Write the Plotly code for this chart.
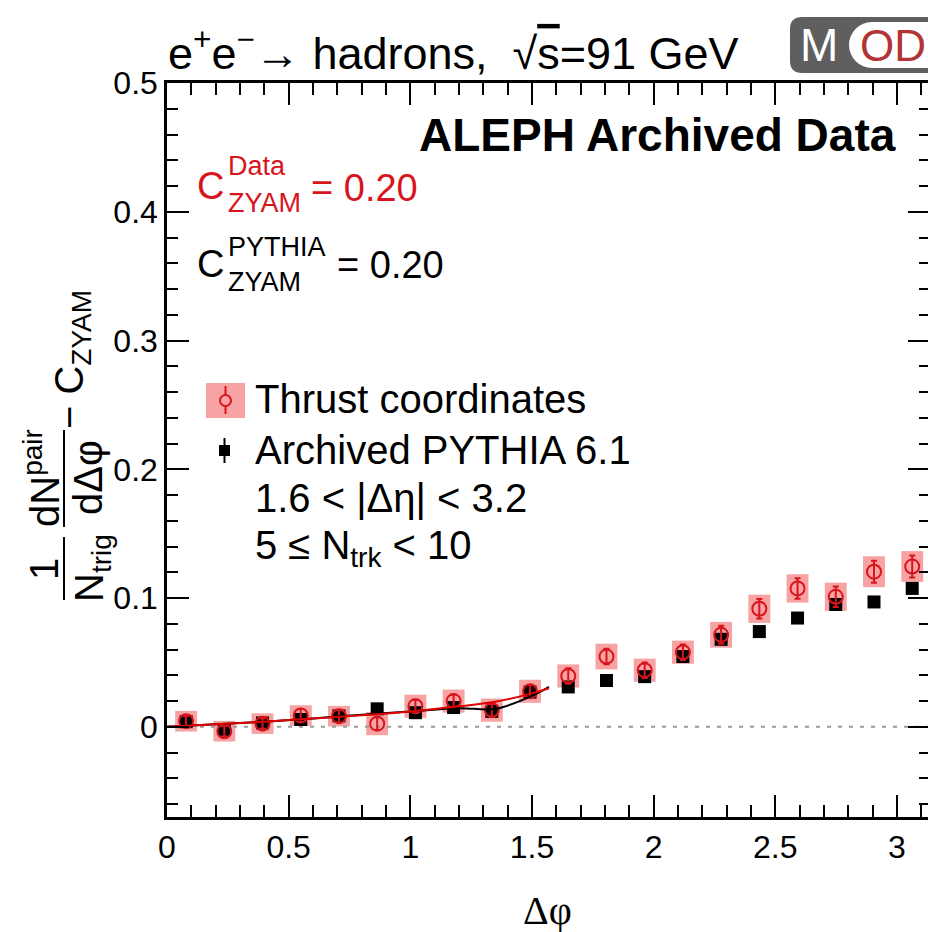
import plotly.graph_objects as go

# ---------------- data ----------------
dphi = [0.0785, 0.2356, 0.3927, 0.5498, 0.7069, 0.8639, 1.0210, 1.1781, 1.3352, 1.4923,
        1.6493, 1.8064, 1.9635, 2.1206, 2.2777, 2.4347, 2.5918, 2.7489, 2.9060, 3.0631]
thrust = [0.0044, -0.0034, 0.0025, 0.0088, 0.0083, 0.0025, 0.0160, 0.0200, 0.0130, 0.0276,
          0.0395, 0.0546, 0.0440, 0.0580, 0.0715, 0.0917, 0.1075, 0.1010, 0.1205, 0.1245]
thrust_stat = [0.004, 0.004, 0.004, 0.005, 0.005, 0.005, 0.005, 0.005, 0.005, 0.005,
               0.006, 0.006, 0.006, 0.006, 0.007, 0.0075, 0.008, 0.008, 0.0085, 0.0085]
thrust_sys = [0.008, 0.008, 0.008, 0.008, 0.008, 0.009, 0.009, 0.009, 0.009, 0.009,
              0.009, 0.010, 0.009, 0.009, 0.010, 0.011, 0.011, 0.011, 0.012, 0.012]
pythia = [0.0040, -0.0020, 0.0030, 0.0057, 0.0085, 0.0140, 0.0110, 0.0150, 0.0120, 0.0270,
          0.0310, 0.0360, 0.0390, 0.0546, 0.0680, 0.0740, 0.0845, 0.0950, 0.0970, 0.1075]
pythia_err = [0.002] * 20

fit_x = [0.0, 0.2, 0.4, 0.6, 0.8, 1.0, 1.2, 1.35, 1.5, 1.57]
fit_thrust = [0.000, 0.002, 0.004, 0.0065, 0.009, 0.012, 0.016, 0.0195, 0.026, 0.030]
fit_pythia = [0.000, 0.002, 0.004, 0.0065, 0.0095, 0.012, 0.0145, 0.0140, 0.024, 0.031]

x_ticks = [0, 0.5, 1, 1.5, 2, 2.5, 3]
x_ticktext = ["0", "0.5", "1", "1.5", "2", "2.5", "3"]
y_ticks = [0, 0.1, 0.2, 0.3, 0.4, 0.5]
y_ticktext = ["0", "0.1", "0.2", "0.3", "0.4", "0.5"]

# ---------------- geometry helpers ----------------
W, H = 928, 932
L, R, T, B = 167, 928, 83, 817          # plot frame in page pixels
XMAX = 3.128                             # Δφ reaching the right edge of the page
YMIN, YMAX = -0.07, 0.5

def px(x):
    return (x - L) / (R - L)

def py(y):
    return (B - y) / (B - T)

FONT = "Liberation Sans, Arial, Helvetica, sans-serif"
RED = "#d8141c"
PINK = "#f7a3a3"

fig = go.Figure()

# systematic boxes
shapes = []
for x, v, s in zip(dphi, thrust, thrust_sys):
    shapes.append(dict(type="rect", xref="x", yref="y", x0=x - 0.045, x1=x + 0.045,
                       y0=v - s, y1=v + s, fillcolor=PINK, line=dict(width=0), layer="below"))
# zero reference line
shapes.append(dict(type="line", xref="x", yref="y", x0=0, x1=XMAX, y0=0, y1=0,
                   line=dict(color="#9a9a9a", width=2, dash="4px,7px"), layer="below"))

fig.add_trace(go.Scatter(
    x=dphi, y=pythia, mode="markers",
    marker=dict(symbol="square", size=13, color="black"),
    error_y=dict(type="data", array=pythia_err, color="black", thickness=2, width=0),
    showlegend=False))
fig.add_trace(go.Scatter(
    x=dphi, y=thrust, mode="markers",
    marker=dict(symbol="circle-open", size=14, color=RED, line=dict(width=2, color=RED)),
    error_y=dict(type="data", array=thrust_stat, color=RED, thickness=2, width=3),
    showlegend=False))
fig.add_trace(go.Scatter(x=fit_x, y=fit_pythia, mode="lines", line=dict(color="black", width=2, shape="spline"),
                         showlegend=False))
fig.add_trace(go.Scatter(x=fit_x, y=fit_thrust, mode="lines", line=dict(color="#e00000", width=2, shape="spline"),
                         showlegend=False))
# invisible trace to carry the right-hand tick axis
fig.add_trace(go.Scatter(x=[0], y=[0], yaxis="y2", mode="markers", marker=dict(opacity=0),
                         showlegend=False, hoverinfo="skip"))

# ---------------- legend markers (drawn by hand) ----------------
shapes += [
    dict(type="rect", xref="paper", yref="paper", x0=px(206), x1=px(245), y0=py(418), y1=py(383),
         fillcolor=PINK, line=dict(width=0)),
    dict(type="line", xref="paper", yref="paper", x0=px(225.5), x1=px(225.5), y0=py(414), y1=py(386),
         line=dict(color=RED, width=2)),
    dict(type="circle", xref="paper", yref="paper", x0=px(220), x1=px(231), y0=py(406), y1=py(395),
         fillcolor=PINK, line=dict(color=RED, width=2)),
    dict(type="line", xref="paper", yref="paper", x0=px(224.5), x1=px(224.5), y0=py(463), y1=py(438),
         line=dict(color="black", width=2)),
    dict(type="rect", xref="paper", yref="paper", x0=px(219), x1=px(230), y0=py(456), y1=py(445),
         fillcolor="black", line=dict(width=0)),
]

# ---------------- y-axis title built from pieces ----------------
shapes += [
    dict(type="line", xref="paper", yref="paper", x0=px(64), x1=px(64), y0=py(600), y1=py(537),
         line=dict(color="black", width=2)),
    dict(type="line", xref="paper", yref="paper", x0=px(64), x1=px(64), y0=py(527), y1=py(430),
         line=dict(color="black", width=2)),
]

# ---------------- MOD badge ----------------
def rounded(x0, y0, x1, y1, r):
    pts = [
        f"M {px(x0 + r)},{py(y0)}", f"L {px(x1)},{py(y0)}", f"L {px(x1)},{py(y1)}",
        f"L {px(x0 + r)},{py(y1)}", f"Q {px(x0)},{py(y1)} {px(x0)},{py(y1 - r)}",
        f"L {px(x0)},{py(y0 + r)}", f"Q {px(x0)},{py(y0)} {px(x0 + r)},{py(y0)}", "Z",
    ]
    return " ".join(pts)

shapes += [
    dict(type="path", xref="paper", yref="paper", path=rounded(790, 17, 945, 73, 12),
         fillcolor="#5f5f5f", line=dict(width=0)),
    dict(type="circle", xref="paper", yref="paper", x0=px(849), x1=px(895), y0=py(68), y1=py(22),
         fillcolor="white", line=dict(width=0)),
    dict(type="rect", xref="paper", yref="paper", x0=px(872), x1=px(945), y0=py(68), y1=py(22),
         fillcolor="white", line=dict(width=0)),
]

ann = []
def text(x, y, s, size, color="black", xanchor="left", yanchor="middle", angle=0, family=FONT):
    ann.append(dict(xref="paper", yref="paper", x=px(x), y=py(y), text=s, showarrow=False,
                    xanchor=xanchor, yanchor=yanchor, textangle=angle,
                    font=dict(family=family, size=size, color=color)))

text(166, 50, "e<sup>+</sup>e<sup>−</sup>→ hadrons,  √<span style='text-decoration:overline'>s</span>=91 GeV", 45)
text(898, 135, "<b>ALEPH Archived Data</b>", 46, xanchor="right")

# C_ZYAM values with stacked super/subscripts
text(195, 186, "C", 38, color=RED)
text(226, 166, "Data", 27, color=RED)
text(226, 203, "ZYAM", 27, color=RED)
text(309, 188, "= 0.20", 38, color=RED)
text(195, 264, "C", 38)
text(226, 247, "PYTHIA", 27)
text(226, 282, "ZYAM", 27)
text(335, 265, "= 0.20", 38)

text(253, 399, "Thrust coordinates", 40)
text(253, 450, "Archived PYTHIA 6.1", 40)
text(253, 498, "1.6 < |Δη| < 3.2", 40)
text(253, 548, "5 ≤ N<sub>trk</sub> < 10", 40)
text(547, 910, "Δφ", 40, xanchor="center", family="Liberation Serif, Times New Roman, serif")

# rotated y title pieces
text(44, 569, "1", 40, xanchor="center", angle=-90)
text(92, 568, "N<sub>trig</sub>", 40, xanchor="center", angle=-90)
text(42, 478, "dN<sup>pair</sup>", 40, xanchor="center", angle=-90)
text(88, 478, "dΔφ", 40, xanchor="center", angle=-90)
text(72, 360, "− C<sub>ZYAM</sub>", 40, xanchor="center", angle=-90)

# badge lettering
text(819, 45, "M", 46, color="white", xanchor="center")
text(893, 45, "OD", 44, color="#b23434", xanchor="center")

axis_common = dict(ticks="inside", tickcolor="black", tickwidth=2, showgrid=False, zeroline=False,
                   tickfont=dict(family=FONT, size=32, color="black"))

fig.update_layout(
    width=W, height=H,
    margin=dict(l=L, r=W - R, t=T, b=H - B),
    plot_bgcolor="white", paper_bgcolor="white",
    showlegend=False,
    shapes=shapes, annotations=ann,
    xaxis=dict(range=[0, XMAX], tickvals=x_ticks, ticktext=x_ticktext, ticklen=22,
               showline=True, linecolor="black", linewidth=2.5, mirror="ticks",
               minor=dict(dtick=0.1, tick0=0, ticklen=12, tickwidth=2, tickcolor="black", ticks="inside"),
               **axis_common),
    yaxis=dict(range=[YMIN, YMAX], tickvals=y_ticks, ticktext=y_ticktext, ticklen=22,
               showline=True, linecolor="black", linewidth=2.5, mirror=False,
               minor=dict(dtick=0.02, tick0=0, ticklen=11, tickwidth=2, tickcolor="black", ticks="inside"),
               **axis_common),
    yaxis2=dict(range=[YMIN, YMAX], overlaying="y", side="right", showline=False,
                tickvals=y_ticks, showticklabels=False, ticklen=20, ticks="inside",
                tickcolor="black", tickwidth=2, showgrid=False, zeroline=False,
                minor=dict(dtick=0.02, tick0=0, ticklen=9, tickwidth=2, tickcolor="black", ticks="inside")),
)

fig.write_html("out.html")
